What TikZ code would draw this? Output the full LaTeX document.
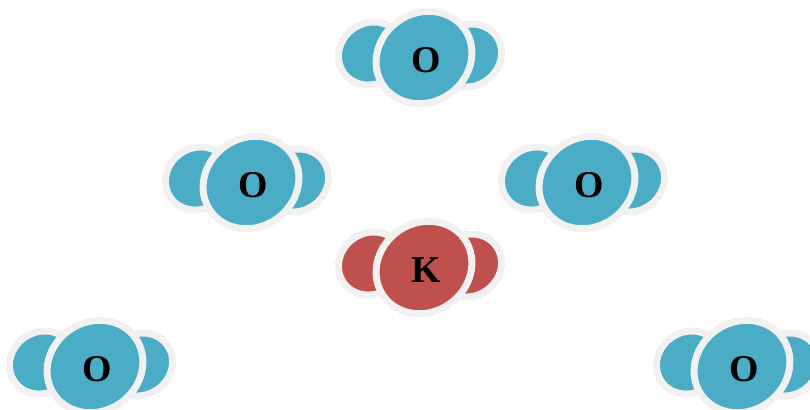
\documentclass[tikz,border=0pt]{standalone}
\usepackage{fontspec}
\setmainfont{Liberation Serif}
\usetikzlibrary{shapes.geometric}
\definecolor{halo}{HTML}{F1F1F1}
\definecolor{oxy}{HTML}{4BACC6}
\definecolor{pot}{HTML}{C0504D}
\tikzset{
  lobe/.style={ellipse,draw=halo,line width=7pt,inner sep=0pt,outer sep=0pt,minimum width=67bp,minimum height=61bp,rotate=35},
  core/.style={ellipse,draw=halo,line width=7pt,inner sep=0pt,outer sep=0pt,minimum width=99bp,minimum height=89bp,rotate=35},
  atomlabel/.style={font=\bfseries\fontsize{38}{38}\selectfont,text=black,inner sep=0pt}
}
\newcommand{\molecule}[5]{%
  \node[lobe,fill=#5] (#1l) at (#2-55,#3-6.5) {};
  \node[lobe,fill=#5] (#1r) at (#2+43,#3-4.5) {};
  \node[core,fill=#5] (#1c) at (#2-2,#3-2.5) {};
  \node[atomlabel] (#1t) at (#2,#3) {#4};
}
\begin{document}
\begin{tikzpicture}[x=1bp,y=-1bp]
\useasboundingbox[fill=white] (0,0) rectangle (810,409);
\begin{scope}
\clip (0,0) rectangle (810,409);
\molecule{a}{426}{60}{O}{oxy}
\molecule{b}{253}{185}{O}{oxy}
\molecule{c}{589}{185}{O}{oxy}
\molecule{d}{426}{270}{K}{pot}
\molecule{e}{97}{369}{O}{oxy}
\molecule{f}{744}{369}{O}{oxy}
\end{scope}
\end{tikzpicture}
\end{document}
